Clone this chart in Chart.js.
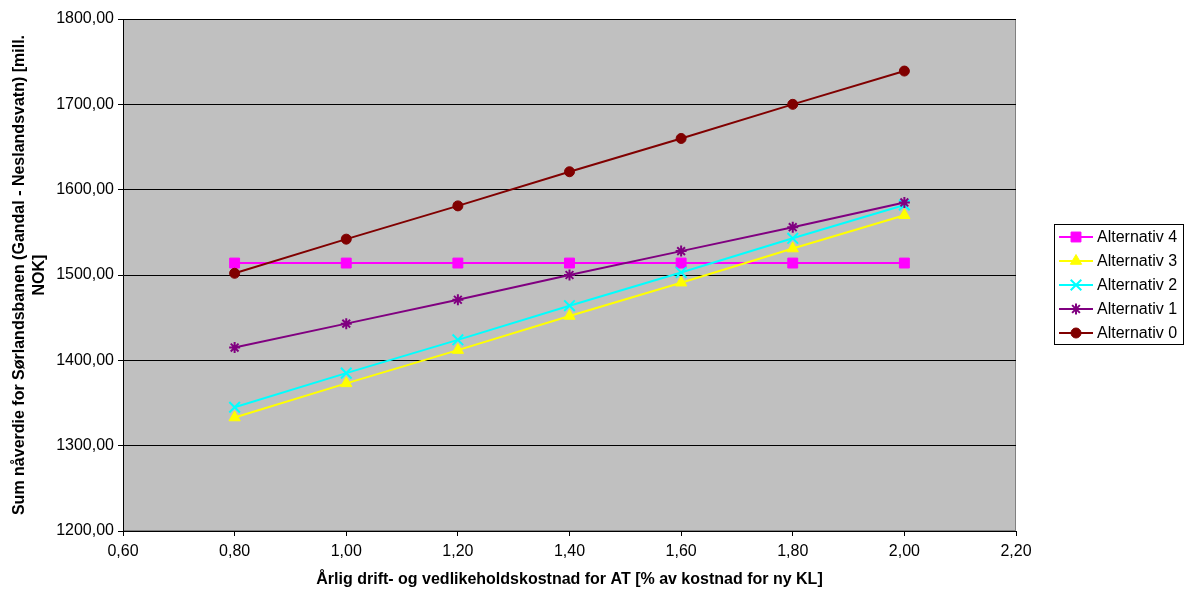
<!DOCTYPE html>
<html>
<head>
<meta charset="utf-8">
<script src="https://cdn.jsdelivr.net/npm/chart.js@4/dist/chart.umd.min.js"></script>
<style>
  html, body { margin: 0; padding: 0; background: #ffffff; }
  #wrap { width: 1184px; height: 589px; }
</style>
</head>
<body>
<div id="wrap"><canvas id="c" width="1184" height="589"></canvas></div>
<script>
// X values: annual operation & maintenance cost (% of new KL cost)
const xValues = [0.8, 1.0, 1.2, 1.4, 1.6, 1.8, 2.0];

// Net present value per alternative [mill. NOK]
const alt4 = [1514, 1514, 1514, 1514, 1514, 1514, 1514];
const alt3 = [1333, 1373, 1412, 1452, 1491, 1531, 1570];
const alt2 = [1345, 1385, 1424, 1464, 1503, 1543, 1582];
const alt1 = [1415, 1443, 1471, 1500, 1528, 1556, 1585];
const alt0 = [1502, 1542, 1581, 1621, 1660, 1700, 1739];

const seriesNames = ['Alternativ 4', 'Alternativ 3', 'Alternativ 2', 'Alternativ 1', 'Alternativ 0'];
const seriesValues = [alt4, alt3, alt2, alt1, alt0];

const xTitle = 'Årlig drift- og vedlikeholdskostnad for AT [% av kostnad for ny KL]';
const yTitle = ['Sum nåverdie for Sørlandsbanen (Gandal - Neslandsvatn) [mill.', 'NOK]'];

const styles = [
  { color: '#FF00FF', point: 'rect',     radius: 7,   bw: 1 },
  { color: '#FFFF00', point: 'triangle', radius: 6.5, bw: 1 },
  { color: '#00FFFF', point: 'crossRot', radius: 7.5, bw: 2 },
  { color: '#800080', point: 'star',     radius: 5.5, bw: 2 },
  { color: '#800000', point: 'circle',   radius: 5,   bw: 1 }
];

const FONT = "'Liberation Sans', Arial, sans-serif";
const FS = 16;
const fmt = v => Number(v).toFixed(2).replace('.', ',');

const datasets = seriesNames.map((name, i) => ({
  label: name,
  data: xValues.map((x, j) => ({ x: x, y: seriesValues[i][j] })),
  borderColor: styles[i].color,
  backgroundColor: styles[i].color,
  borderWidth: 2,
  pointStyle: styles[i].point,
  pointRadius: styles[i].radius,
  pointBorderWidth: styles[i].bw,
  pointBackgroundColor: styles[i].color,
  pointBorderColor: styles[i].color,
  pointHoverRadius: styles[i].radius,
  tension: 0,
  fill: false,
  order: 4 - i
}));

// Grey plot area with a thin border on the right side
const plotBackground = {
  id: 'plotBackground',
  beforeDraw(chart) {
    const { ctx, chartArea: a } = chart;
    ctx.save();
    ctx.fillStyle = '#C0C0C0';
    ctx.fillRect(a.left, a.top, a.right - a.left, a.bottom - a.top);
    ctx.strokeStyle = '#808080';
    ctx.lineWidth = 1;
    ctx.strokeRect(a.left + 0.5, a.top + 0.5, a.right - a.left - 1, a.bottom - a.top - 1);
    ctx.restore();
  }
};

// Boxed legend on the right, built from the datasets
const boxedLegend = {
  id: 'boxedLegend',
  afterDraw(chart) {
    const ctx = chart.ctx;
    const bx = 1054.5, by = 224.5, bw = 129, bh = 120;
    ctx.save();
    ctx.fillStyle = '#ffffff';
    ctx.fillRect(bx, by, bw, bh);
    ctx.strokeStyle = '#000000';
    ctx.lineWidth = 1;
    ctx.strokeRect(bx, by, bw, bh);
    chart.data.datasets.forEach((ds, i) => {
      const y = 237 + i * 24;
      ctx.strokeStyle = ds.borderColor;
      ctx.lineWidth = 2;
      ctx.beginPath();
      ctx.moveTo(1059, y);
      ctx.lineTo(1093, y);
      ctx.stroke();
      ctx.fillStyle = ds.pointBackgroundColor;
      ctx.strokeStyle = ds.pointBorderColor;
      ctx.lineWidth = ds.pointBorderWidth;
      Chart.helpers.drawPoint(ctx, {
        pointStyle: ds.pointStyle,
        radius: ds.pointRadius,
        rotation: 0,
        borderWidth: ds.pointBorderWidth
      }, 1076, y);
      ctx.fillStyle = '#000000';
      ctx.font = FS + 'px ' + FONT;
      ctx.textAlign = 'left';
      ctx.textBaseline = 'middle';
      ctx.fillText(ds.label, 1097, y + 0.5);
    });
    ctx.restore();
  }
};

new Chart(document.getElementById('c'), {
  type: 'line',
  data: { datasets: datasets },
  plugins: [plotBackground, boxedLegend],
  options: {
    responsive: false,
    animation: false,
    layout: { padding: { left: 0, right: 168, top: 19, bottom: 0 } },
    plugins: {
      legend: { display: false },
      tooltip: { enabled: false }
    },
    scales: {
      x: {
        type: 'linear',
        min: 0.6,
        max: 2.2,
        afterFit(scale) { scale.height = 58; },
        ticks: {
          stepSize: 0.2,
          color: '#000000',
          font: { family: FONT, size: FS },
          padding: 6,
          maxRotation: 0,
          callback: v => fmt(v)
        },
        grid: {
          display: true,
          drawOnChartArea: false,
          drawTicks: true,
          tickLength: 5,
          tickColor: '#000000'
        },
        border: { display: true, color: '#000000', width: 1 },
        title: {
          display: true,
          text: xTitle,
          color: '#000000',
          font: { family: FONT, size: FS, weight: 'bold', lineHeight: 1.2 },
          padding: { top: 0, bottom: 0 }
        }
      },
      y: {
        type: 'linear',
        min: 1200,
        max: 1800,
        afterFit(scale) { scale.width = 123; },
        ticks: {
          stepSize: 100,
          color: '#000000',
          font: { family: FONT, size: FS },
          padding: 4,
          callback: v => fmt(v)
        },
        grid: {
          display: true,
          color: '#000000',
          lineWidth: 1,
          drawTicks: true,
          tickLength: 5,
          tickColor: '#000000'
        },
        border: { display: true, color: '#000000', width: 1 },
        title: {
          display: true,
          text: yTitle,
          color: '#000000',
          font: { family: FONT, size: FS, weight: 'bold', lineHeight: 1.25 },
          padding: { top: 10, bottom: 0 }
        }
      }
    }
  }
});
</script>
</body>
</html>
